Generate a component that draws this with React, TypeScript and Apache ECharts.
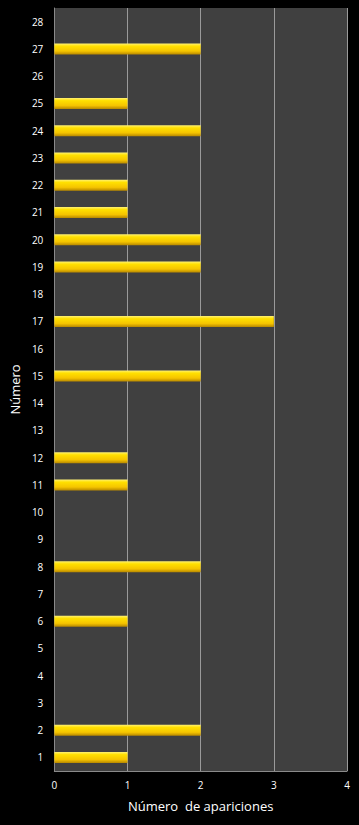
import React, { useEffect, useRef } from "react";
import * as echarts from "echarts";

const categories = ["1","2","3","4","5","6","7","8","9","10","11","12","13","14","15","16","17","18","19","20","21","22","23","24","25","26","27","28"];
const values = [1,2,0,0,0,1,0,2,0,0,1,1,0,0,2,0,3,0,2,2,1,1,1,2,1,0,2,0];
const xTicks = [0,1,2,3,4];

export default function App() {
  const ref = useRef<HTMLDivElement>(null);
  useEffect(() => {
    if (!ref.current) return;
    const chart = echarts.init(ref.current, null, { renderer: "svg" });
    const font = "'Open Sans', 'Noto Sans', sans-serif";
    chart.setOption({
      animation: false,
      backgroundColor: "#000000",
      grid: {
        left: 53, right: 12, top: 8, bottom: 54,
        show: true, backgroundColor: "#404040", borderWidth: 0,
      },
      xAxis: {
        type: "value",
        min: xTicks[0], max: xTicks[xTicks.length - 1], interval: 1,
        name: "Número  de apariciones",
        nameLocation: "middle", nameGap: 28,
        nameTextStyle: { color: "#ffffff", fontSize: 13, fontFamily: font },
        axisLine: { show: true, lineStyle: { color: "#8a8a8a", width: 1 } },
        axisTick: { show: false },
        axisLabel: { color: "#ffffff", fontSize: 10, fontFamily: font, margin: 9 },
        splitLine: { show: true, lineStyle: { color: "#9a9a9a", width: 1 } },
      },
      yAxis: {
        type: "category",
        data: categories,
        name: "Número",
        nameLocation: "middle", nameGap: 32, nameRotate: 90,
        nameTextStyle: { color: "#ffffff", fontSize: 13, fontFamily: font },
        axisLine: { show: true, lineStyle: { color: "#8a8a8a", width: 1 } },
        axisTick: { show: false },
        axisLabel: { color: "#ffffff", fontSize: 10, fontFamily: font, margin: 11 },
        splitLine: { show: false },
      },
      series: [{
        type: "bar",
        data: values,
        barWidth: 11,
        itemStyle: {
          color: new echarts.graphic.LinearGradient(0, 0, 0, 1, [
            { offset: 0, color: "#fff27a" },
            { offset: 0.25, color: "#ffe000" },
            { offset: 0.7, color: "#f5c400" },
            { offset: 1, color: "#b98a00" },
          ]),
          borderWidth: 0,
        },
      }],
    });
    return () => chart.dispose();
  }, []);
  return <div ref={ref} style={{ position: "fixed", left: 0, top: 0, width: 359, height: 825 }} />;
}
